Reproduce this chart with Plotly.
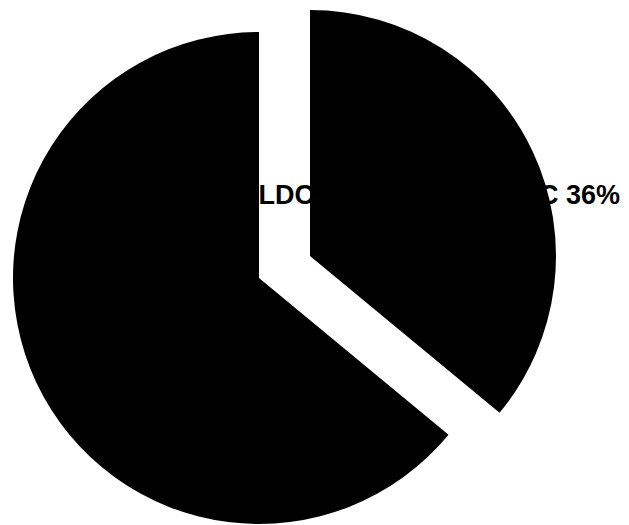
import plotly.graph_objects as go

# Data
categories = ["LDC", "Non-LDC"]
shares = [36, 64]
label_texts = ["LDC 36%", "Non-LDC 64%"]

OFF = 8                      # page body margin
W, H = 629 - OFF, 525 - OFF  # figure size
R = 246
base_center = (259 - OFF, 278 - OFF)      # unpulled pie centre (px, figure)
pulled_center = (310 - OFF, 256 - OFF)    # centre of exploded LDC slice


def dom(center):
    cx, cy = center
    x0, x1 = (cx - R) / W, (cx + R) / W
    y0, y1 = 1 - (cy + R) / H, 1 - (cy - R) / H
    return dict(x=[x0, x1], y=[y0, y1])


clear = "rgba(0,0,0,0)"
fig = go.Figure()
# Non-LDC slice (not pulled)
fig.add_trace(go.Pie(
    labels=categories, values=shares, sort=False, direction="clockwise",
    rotation=0, textinfo="none", showlegend=False,
    marker=dict(colors=[clear, "black"], line=dict(width=0)),
    domain=dom(base_center),
))
# LDC slice (exploded)
fig.add_trace(go.Pie(
    labels=categories, values=shares, sort=False, direction="clockwise",
    rotation=0, textinfo="none", showlegend=False,
    marker=dict(colors=["black", clear], line=dict(width=0)),
    domain=dom(pulled_center),
))

font = dict(family="Liberation Sans, Arial, sans-serif", size=27, color="black")
fig.add_annotation(text="<b>" + label_texts[1] + "</b>", x=(195 - OFF) / W, y=1 - (195 - OFF) / H,
                   xref="paper", yref="paper", xanchor="left", yanchor="middle",
                   showarrow=False, font=font)
fig.add_annotation(text="<b>" + label_texts[0] + "</b>", x=(622 - OFF) / W, y=1 - (195 - OFF) / H,
                   xref="paper", yref="paper", xanchor="right", yanchor="middle",
                   showarrow=False, font=font)

fig.update_layout(
    width=W, height=H, margin=dict(l=0, r=0, t=0, b=0),
    paper_bgcolor="white", plot_bgcolor="white",
)
fig.write_html("out.html")
